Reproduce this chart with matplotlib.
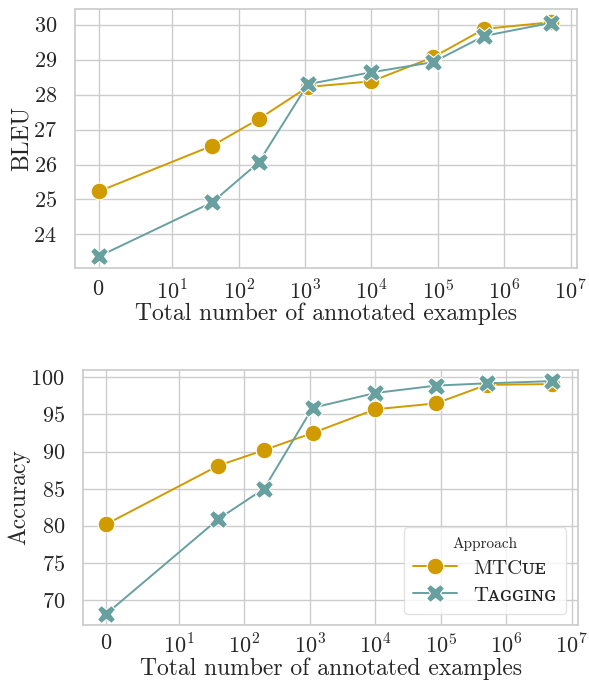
import matplotlib
matplotlib.use("Agg")
import matplotlib.pyplot as plt
import seaborn as sns

sns.set_theme(style="whitegrid")
plt.rcParams['font.family'] = ['cmr10', 'DejaVu Serif']
plt.rcParams['mathtext.fontset'] = 'cm'
plt.rcParams['axes.formatter.use_mathtext'] = True

# Data
x_examples = [0, 40, 200, 1100, 10000, 85000, 500000, 5000000]
bleu_mtcue = [25.23, 26.54, 27.30, 28.22, 28.38, 29.07, 29.88, 30.07]
bleu_tagging = [23.37, 24.92, 26.06, 28.30, 28.64, 28.93, 29.68, 30.05]
acc_mtcue = [80.2, 88.1, 90.2, 92.5, 95.7, 96.5, 99.0, 99.1]
acc_tagging = [68.1, 80.9, 85.0, 95.9, 97.9, 98.9, 99.2, 99.5]
series_names = ["MTC\u1d1c\u1d07", "T\u1d00\u0262\u0262\u026a\u0274\u0262"]
xtick_vals = [0, 10, 100, 1000, 10**4, 10**5, 10**6, 10**7]
xtick_labels = ["$0$", "$10^{1}$", "$10^{2}$", "$10^{3}$", "$10^{4}$", "$10^{5}$", "$10^{6}$", "$10^{7}$"]

c_mtcue = "#cf9b00"
c_tag = "#68a0a0"

fig = plt.figure(figsize=(5.89, 6.80), dpi=100)
ax1 = fig.add_axes([75/589, 1-268/680, (577-75)/589, (268-9)/680])
ax2 = fig.add_axes([83/589, 1-625/680, (578-83)/589, (625-370)/680])

def draw(ax, ym, yt, ylabel, ylim, yticks, label_y, xpad):
    ax.plot(x_examples, ym, color=c_mtcue, marker='o', markersize=12, markeredgecolor='white',
            markeredgewidth=0.8, linewidth=1.4, label=series_names[0], zorder=3)
    ax.plot(x_examples, yt, color=c_tag, marker='X', markersize=13, markeredgecolor='white',
            markeredgewidth=0.8, linewidth=1.4, label=series_names[1], zorder=4)
    ax.set_xscale('symlog', linthresh=10, linscale=1)
    ax.set_xlim(-3.2, 1.25e7)
    ax.set_xticks(xtick_vals)
    ax.set_xticklabels(xtick_labels)
    ax.xaxis.set_minor_locator(matplotlib.ticker.NullLocator())
    ax.set_ylim(*ylim)
    ax.set_yticks(yticks)
    ax.tick_params(axis='both', labelsize=16)
    ax.tick_params(axis='x', pad=xpad)
    ax.tick_params(axis='y', pad=7)
    ax.set_xlabel("Total number of annotated examples", fontsize=17, va='baseline')
    ax.xaxis.set_label_coords(0.5, label_y)
    ax.set_ylabel(ylabel, fontsize=17, labelpad=0)
    for s in ax.spines.values():
        s.set_color('#cccccc')

draw(ax1, bleu_mtcue, bleu_tagging, "BLEU", (23.04, 30.45), [24, 25, 26, 27, 28, 29, 30], -52/259, 2)
draw(ax2, acc_mtcue, acc_tagging, "Accuracy", (66.6, 101.0), [70, 75, 80, 85, 90, 95, 100], -50/255, 0.3)

leg = ax2.legend(title="Approach", loc='lower right', fontsize=15, title_fontsize=11,
                 frameon=True, borderpad=0.45, handlelength=2.1, labelspacing=0.4,
                 borderaxespad=0, bbox_to_anchor=(0.976, 0.043))
leg.get_frame().set_edgecolor('#dddddd')

fig.savefig("out.png", dpi=100)
